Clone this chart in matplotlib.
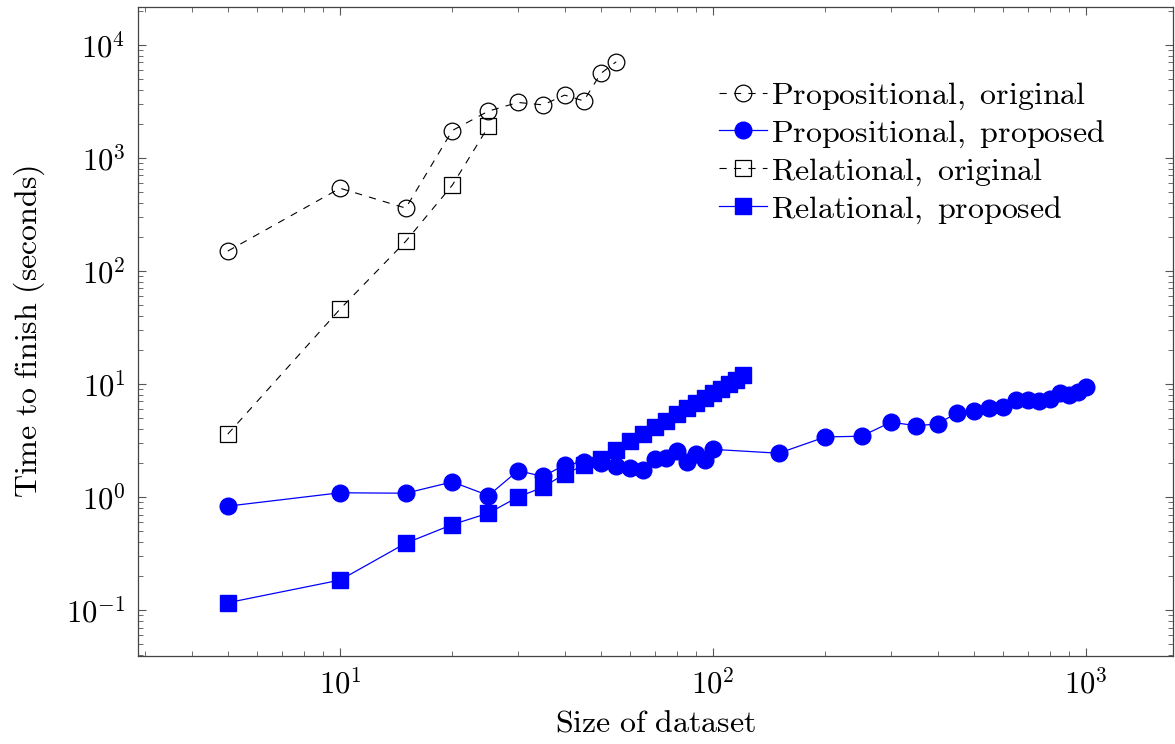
import numpy as np
import matplotlib
matplotlib.use("Agg")
import matplotlib.pyplot as plt
from matplotlib.ticker import LogLocator, FuncFormatter, NullFormatter

plt.rcParams['mathtext.fontset'] = 'cm'
plt.rcParams['font.size'] = 22

# %% data
prop_orig_x = [5, 10, 15, 20, 25, 30, 35, 40, 45, 50, 55]
prop_orig_y = [150, 540, 360, 1750, 2600, 3100, 2950, 3600, 3200, 5600, 7100]

rel_orig_x = [5, 10, 15, 20, 25]
rel_orig_y = [3.6, 46, 183, 575, 1900]

prop_new_x = [5, 10, 15, 20, 25, 30, 35, 40, 45, 50, 55, 60, 65, 70, 75, 80, 85, 90, 95, 100,
              150, 200, 250, 300, 350, 400, 450, 500, 550, 600, 650, 700, 750, 800, 850, 900, 950, 1000]
prop_new_y = [0.83, 1.09, 1.08, 1.36, 1.03, 1.71, 1.52, 1.92, 2.05, 2.0, 1.88, 1.79, 1.73, 2.15, 2.23, 2.55,
              2.05, 2.4, 2.13, 2.64, 2.44, 3.4, 3.45, 4.6, 4.27, 4.43, 5.55, 5.75, 6.15, 6.3,
              7.2, 7.2, 7.05, 7.35, 8.4, 8.05, 8.45, 9.4]

rel_new_x = [5, 10, 15, 20, 25, 30, 35, 40, 45, 50, 55, 60, 65, 70, 75, 80, 85, 90, 95, 100,
             105, 110, 115, 120]
rel_new_y = [0.116, 0.184, 0.39, 0.57, 0.72, 1.0, 1.22, 1.6, 1.9, 2.15, 2.6, 3.1, 3.6, 4.2, 4.7, 5.4,
             6.1, 6.8, 7.5, 8.3, 9.1, 10.0, 10.9, 12.0]

labels = [r'$\mathrm{Propositional,\ original}$',
          r'$\mathrm{Propositional,\ proposed}$',
          r'$\mathrm{Relational,\ original}$',
          r'$\mathrm{Relational,\ proposed}$']

# %% plotting
fig = plt.figure(figsize=(11.75, 7.44), dpi=100)
ax = fig.add_axes([138/1175, 1-656/744, (1173-138)/1175, (656-7)/744])

dash = (0, (6.5, 6.5))
ax.plot(prop_orig_x, prop_orig_y, color='black', lw=0.8, linestyle=dash,
        marker='o', ms=12, mfc='none', mec='black', mew=0.9, label=labels[0])
ax.plot(prop_new_x, prop_new_y, color='blue', lw=0.9,
        marker='o', ms=12, mfc='blue', mec='blue', label=labels[1])
ax.plot(rel_orig_x, rel_orig_y, color='black', lw=0.8, linestyle=dash,
        marker='s', ms=12, mfc='none', mec='black', mew=0.9, label=labels[2])
ax.plot(rel_new_x, rel_new_y, color='blue', lw=0.9,
        marker='s', ms=12, mfc='blue', mec='blue', label=labels[3])

ax.set_xscale('log')
ax.set_yscale('log')
ax.set_xlim(2.873, 1710)
ax.set_ylim(10**-1.407, 10**4.336)

fmt = FuncFormatter(lambda v, p: r'$10^{%d}$' % int(round(np.log10(v))))
for a in (ax.xaxis, ax.yaxis):
    a.set_major_locator(LogLocator(base=10))
    a.set_minor_locator(LogLocator(base=10, subs=np.arange(2, 10)))
    a.set_major_formatter(fmt)
    a.set_minor_formatter(NullFormatter())

ax.tick_params(which='both', direction='in', top=True, right=True, color='#555555')
ax.tick_params(which='major', length=6, width=0.8, pad=9, labelsize=22)
ax.tick_params(which='minor', length=3.5, width=0.6)
for s in ax.spines.values():
    s.set_color('#444444')
    s.set_linewidth(0.9)

ax.set_xlabel(r'$\mathrm{Size\ of\ dataset}$', fontsize=23, labelpad=6)
ax.set_ylabel(r'$\mathrm{Time\ to\ finish\ (seconds)}$', fontsize=23, labelpad=14)

ax.legend(loc='upper left', bbox_to_anchor=(0.561, 0.888), frameon=False,
          fontsize=23, handlelength=1.5, handletextpad=0.15, labelspacing=0.18,
          borderpad=0, borderaxespad=0)

fig.savefig('out.png', dpi=100)
